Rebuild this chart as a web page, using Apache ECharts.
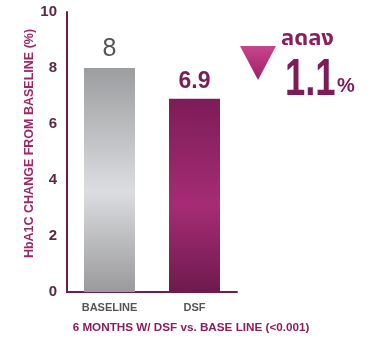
<!DOCTYPE html>
<html><head><meta charset="utf-8">
<script src="https://cdn.jsdelivr.net/npm/echarts@6/dist/echarts.min.js"></script>
<style>html,body{margin:0;padding:0;background:#fff}#c{width:370px;height:344px}</style>
</head><body><div id="c"></div>
<script>
var categories = ['BASELINE', 'DSF'];
var values = [8, 6.9];
var valueLabels = ['8', '6.9'];
var yTicks = [0, 2, 4, 6, 8, 10];
var yAxisName = 'HbA1C CHANGE FROM BASELINE (%)';
var xAxisName = '6 MONTHS W/ DSF vs. BASE LINE (<0.001)';
var changeWord = 'ลดลง';
var changeValue = '1.1';
var changeUnit = '%';

var font = 'Liberation Sans, Arial, sans-serif';
var grayGrad = new echarts.graphic.LinearGradient(0,0,0,1,[
  {offset:0,color:'#9c9d9f'},{offset:0.55,color:'#dcdde0'},{offset:1,color:'#9a9a9c'}]);
var plumGrad = new echarts.graphic.LinearGradient(0,0,0,1,[
  {offset:0,color:'#7c1d57'},{offset:0.55,color:'#a52c74'},{offset:1,color:'#6e1a4d'}]);
var colors = [grayGrad, plumGrad];
var labelColors = ['#555555', '#7c1d57'];

var chart = echarts.init(document.getElementById('c'));
chart.setOption({
  animation:false,
  grid:{left:67,right:133,top:12,bottom:52},
  xAxis:{type:'category',data:categories,
    axisLine:{lineStyle:{color:'#6e1d4c',width:2}},
    axisTick:{show:false},
    axisLabel:{color:'#555',fontFamily:font,fontWeight:'bold',fontSize:11,margin:10},
    name:xAxisName,nameLocation:'middle',nameGap:30,
    nameTextStyle:{color:'#8a1f5e',fontFamily:font,fontWeight:'bold',fontSize:11.7,padding:[0,0,0,78]}
  },
  yAxis:{type:'value',min:0,max:10,interval:2,
    axisLine:{show:true,lineStyle:{color:'#6e1d4c',width:2}},
    axisTick:{show:false},splitLine:{show:false},
    axisLabel:{color:'#5a2a45',fontFamily:font,fontWeight:'bold',fontSize:15,margin:10,
      formatter:function(v){return yTicks.indexOf(v)>=0?String(v):'';}},
    name:yAxisName,nameLocation:'middle',nameGap:29,nameRotate:90,
    nameTextStyle:{color:'#9a2a6a',fontFamily:font,fontWeight:'bold',fontSize:12.5,padding:[0,0,0,17]}
  },
  series:[{type:'bar',barWidth:51,
    data:values.map(function(v,i){return {value:v,itemStyle:{color:colors[i]},
      label:{show:true,position:'top',distance:6,formatter:valueLabels[i],color:labelColors[i],
        fontFamily:font,fontSize:i===0?25:23,fontWeight:i===0?'normal':'bold'}};})
  }],
  graphic:[
    {type:'polygon',shape:{points:[[240,46],[276,46],[258,80]]},
      style:{fill:new echarts.graphic.LinearGradient(0,0,0,1,[{offset:0,color:'#c8468b'},{offset:1,color:'#a01d66'}])}},
    {type:'text',left:281,top:28,style:{text:changeWord,fill:'#8a1f5e',font:'bold 22px Noto Sans, Noto Sans Thai, sans-serif'}},
    {type:'text',x:285,y:107,scaleX:0.7,style:{text:changeValue,fill:'#7c1d57',font:'bold 52px '+font,textVerticalAlign:'bottom'}},
    {type:'text',left:337,top:76,style:{text:changeUnit,fill:'#7c1d57',font:'bold 20px '+font}}
  ]
});
</script></body></html>
